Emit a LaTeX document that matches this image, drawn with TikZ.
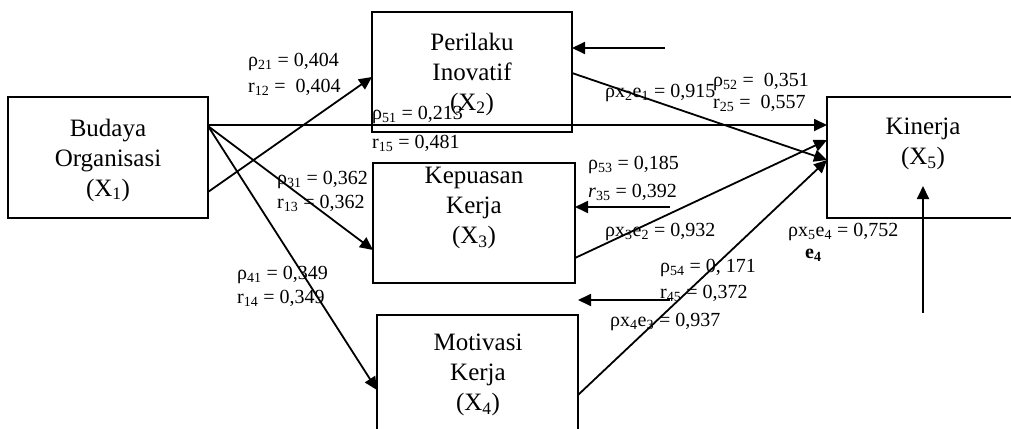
\documentclass[tikz,border=0pt]{standalone}
\usepackage{fontspec}
\setmainfont{Liberation Serif}
\usetikzlibrary{arrows.meta}
\newcommand{\sbs}[1]{\textsubscript{#1}}
\begin{document}
\begin{tikzpicture}[x=1pt,y=-1pt,
  box/.style={draw,line width=1.5pt,inner sep=0pt,outer sep=0pt,anchor=north west},
  btext/.style={font=\fontsize{25}{30}\selectfont,align=center,inner sep=0pt},
  lab/.style={font=\fontsize{20}{24}\selectfont,anchor=west,inner sep=0pt},
  arr/.style={line width=1.8pt,-{Triangle[length=13pt,width=12pt]}}]
\useasboundingbox (0,0) rectangle (1011,428);
\fill[white] (0,0) rectangle (1011,428);
\clip (0,0) rectangle (1011,428);
% boxes
\node[box,minimum width=200pt,minimum height=121pt] (x1) at (8,97) {};
\node[box,minimum width=200pt,minimum height=120pt] (x2) at (372,12) {};
\node[box,minimum width=202pt,minimum height=120pt] (x3) at (373,163) {};
\node[box,minimum width=201pt,minimum height=130pt] (x4) at (377,315) {};
\node[box,minimum width=192pt,minimum height=121pt] (x5) at (827,97) {};
% box texts
\node[btext] (t1) at (108,160) {Budaya\\Organisasi\\(X\sbs{1})};
\node[btext] (t2) at (472,74) {Perilaku\\Inovatif\\(X\sbs{2})};
\node[btext] (t3) at (474,208) {Kepuasan\\Kerja\\(X\sbs{3})};
\node[btext] (t4) at (478,375) {Motivasi\\Kerja\\(X\sbs{4})};
\node[btext] (t5) at (923,144) {Kinerja\\(X\sbs{5})};
% error terms
\coordinate (e1) at (665,48);
\coordinate (e2) at (670,207);
\coordinate (e3) at (670,300);
\coordinate (e4) at (923,313);
% connectors
\draw[arr] ([yshift=-28pt]x1.north east) -- ([yshift=-28pt]x5.north west);
\draw[arr] ([yshift=-95pt]x1.north east) -- ([yshift=-65pt]x2.north west);
\draw[arr] ([yshift=-29pt]x1.north east) -- ([yshift=-87pt]x3.north west);
\draw[arr] ([yshift=-29pt]x1.north east) -- ([yshift=-75pt]x4.north west);
\draw[arr] ([yshift=-61pt]x2.north east) -- ([yshift=-63pt]x5.north west);
\draw[arr] ([yshift=-95pt]x3.north east) -- ([yshift=-43pt]x5.north west);
\draw[arr] ([yshift=-80pt]x4.north east) -- ([yshift=-63pt]x5.north west);
\draw[arr] (e1) -- ([yshift=-36pt]x2.north east);
\draw[arr] (e2) -- ([yshift=-44pt]x3.north east);
\draw[arr] (e3) -- ([yshift=15pt]x4.north east);
\draw[arr] (e4) -- ([yshift=32pt]x5.south);
% labels
\node[lab] (l1) at (248,62) {ρ\sbs{21} = 0,404};
\node[lab] (l2) at (248,87) {r\sbs{12} =\ \ 0,404};
\node[lab] (l3) at (372,115) {ρ\sbs{51} = 0,213};
\node[lab] (l4) at (372,143) {r\sbs{15} = 0,481};
\node[lab] (l5) at (605,93) {ρx\sbs{2}e\sbs{1} = 0,915};
\node[lab] (l6) at (713,82) {ρ\sbs{52} =\ \ 0,351};
\node[lab] (l7) at (713,103) {r\sbs{25} =\ \ 0,557};
\node[lab] (l8) at (588,165) {ρ\sbs{53} = 0,185};
\node[lab] (l9) at (588,192) {\textit{r}\sbs{35} = 0,392};
\node[lab] (l10) at (605,232) {ρx\sbs{3}e\sbs{2} = 0,932};
\node[lab] (l11) at (277,180) {ρ\sbs{31} = 0,362};
\node[lab] (l12) at (277,203) {r\sbs{13} = 0,362};
\node[lab] (l13) at (237,275) {ρ\sbs{41} = 0,349};
\node[lab] (l14) at (237,298) {r\sbs{14} = 0,349};
\node[lab] (l15) at (660,268) {ρ\sbs{54} = 0, 171};
\node[lab] (l16) at (660,293) {r\sbs{45} = 0,372};
\node[lab] (l17) at (610,322) {ρx\sbs{4}e\sbs{3} = 0,937};
\node[lab] (l18) at (788,232) {ρx\sbs{5}e\sbs{4} = 0,752};
\node[lab] (l19) at (805,255) {\textbf{e\sbs{4}}};
\end{tikzpicture}
\end{document}
